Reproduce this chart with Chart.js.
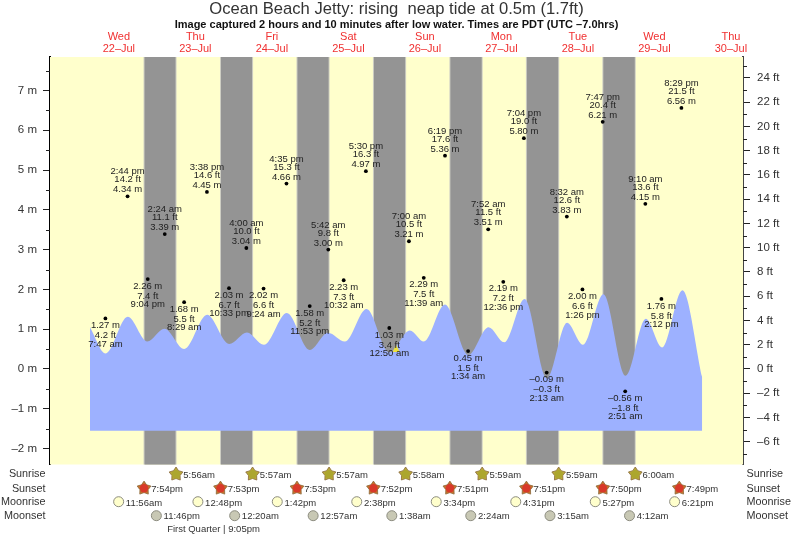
<!DOCTYPE html>
<html>
<head>
<meta charset="utf-8">
<style>
  html, body { margin: 0; padding: 0; background: #fff; }
  canvas { display: block; }
</style>
<script src="https://cdn.jsdelivr.net/npm/chart.js@4"></script>
</head>
<body>
<canvas id="tide" width="793" height="538"></canvas>
<script>
// ─── Data ────────────────────────────────────────────────────────────
// day = days after 22-Jul
const dayNames = ['Wed', 'Thu', 'Fri', 'Sat', 'Sun', 'Mon', 'Tue', 'Wed', 'Thu'];
const dayDates = ['22–Jul', '23–Jul', '24–Jul', '25–Jul', '26–Jul', '27–Jul', '28–Jul', '29–Jul', '30–Jul'];

// high and low water, alternating, starts with a low
const tideDays = [0, 0, 0, 1, 1, 1, 1, 2, 2, 2, 2, 3, 3, 3, 4, 4, 4, 4, 5, 5, 5, 5, 6, 6, 6, 6, 7, 7, 7, 7];
const tideTimes = ['7:47 am', '2:44 pm', '9:04 pm', '2:24 am', '8:29 am', '3:38 pm', '10:33 pm', '4:00 am', '9:24 am', '4:35 pm',
  '11:53 pm', '5:42 am', '10:32 am', '5:30 pm', '12:50 am', '7:00 am', '11:39 am', '6:19 pm', '1:34 am', '7:52 am',
  '12:36 pm', '7:04 pm', '2:13 am', '8:32 am', '1:26 pm', '7:47 pm', '2:51 am', '9:10 am', '2:12 pm', '8:29 pm'];
const tideMetres = ['1.27', '4.34', '2.26', '3.39', '1.68', '4.45', '2.03', '3.04', '2.02', '4.66',
  '1.58', '3.00', '2.23', '4.97', '1.03', '3.21', '2.29', '5.36', '0.45', '3.51',
  '2.19', '5.80', '–0.09', '3.83', '2.00', '6.21', '–0.56', '4.15', '1.76', '6.56'];
const tideFeet = ['4.2', '14.2', '7.4', '11.1', '5.5', '14.6', '6.7', '10.0', '6.6', '15.3',
  '5.2', '9.8', '7.3', '16.3', '3.4', '10.5', '7.5', '17.6', '1.5', '11.5',
  '7.2', '19.0', '–0.3', '12.6', '6.6', '20.4', '–1.8', '13.6', '5.8', '21.5'];

// the blue curve, hours after midnight 22-Jul / metres
const curveHours = [2.95, 7.87, 14.78, 20.9, 26.3, 32.5, 39.7, 46.6, 52.2, 57.5, 64.7, 71.9, 77.6, 82.9, 89.7, 96.8,
  103.3, 107.7, 114.3, 121.6, 128.0, 132.9, 139.3, 146.3, 152.6, 157.6, 164.0, 171.0, 177.3, 182.4, 188.8, 195.0];
const curveMetres = [1.05, 0.39, 1.31, 0.69, 1.01, 0.50, 1.36, 0.63, 0.92, 0.61, 1.41, 0.48, 0.91, 0.69, 1.51, 0.42,
  0.97, 0.69, 1.62, 0.35, 1.05, 0.67, 1.76, -0.23, 1.16, 0.61, 1.88, -0.17, 1.26, 0.54, 1.98, -0.21];
const curveFloor = -1.55;
const nowHour = 99, nowMetres = 0.5;

const sunriseDays = [1, 2, 3, 4, 5, 6, 7];
const sunriseTimes = ['5:56am', '5:57am', '5:57am', '5:58am', '5:59am', '5:59am', '6:00am'];
const sunsetDays = [0, 1, 2, 3, 4, 5, 6, 7];
const sunsetTimes = ['7:54pm', '7:53pm', '7:53pm', '7:52pm', '7:51pm', '7:51pm', '7:50pm', '7:49pm'];
const moonriseDays = [0, 1, 2, 3, 4, 5, 6, 7];
const moonriseTimes = ['11:56am', '12:48pm', '1:42pm', '2:38pm', '3:34pm', '4:31pm', '5:27pm', '6:21pm'];
const moonsetDays = [0, 2, 3, 4, 5, 6, 7];
const moonsetTimes = ['11:46pm', '12:20am', '12:57am', '1:38am', '2:24am', '3:15am', '4:12am'];

const metreTicks = [-2, -1, 0, 1, 2, 3, 4, 5, 6, 7];
const feetTicks = [-6, -4, -2, 0, 2, 4, 6, 8, 10, 12, 14, 16, 18, 20, 22, 24];

const FONT = '"Liberation Sans", Arial, sans-serif';
const M_TO_FT = 3.28084;
const Y_MIN = -2.4, Y_MAX = 7.84;

function hourOf(day, time) {
  const m = time.match(/(\d+):(\d+)\s*(am|pm)/);
  return day * 24 + (+m[1] % 12) + (m[3] === 'pm' ? 12 : 0) + m[2] / 60;
}
const minus = (v) => String(v).replace('-', '–');

// ─── Background: daylight and night bands ────────────────────────────
const bandsPlugin = {
  id: 'bands',
  beforeDatasetsDraw(chart) {
    const { ctx, chartArea: a, scales: { x } } = chart;
    ctx.save();
    ctx.fillStyle = '#ffffcc';
    ctx.fillRect(a.left, a.top, a.right - a.left, a.bottom - a.top);
    sunriseTimes.forEach((t, i) => {
      const x0 = x.getPixelForValue(hourOf(sunsetDays[i], sunsetTimes[i]));
      const x1 = x.getPixelForValue(hourOf(sunriseDays[i], t));
      ctx.fillStyle = '#cfcfc4';
      ctx.fillRect(x0 - 0.5, a.top, x1 - x0 + 1, a.bottom - a.top);
      ctx.fillStyle = '#949494';
      ctx.fillRect(x0 + 0.5, a.top, x1 - x0 - 1, a.bottom - a.top);
    });
    ctx.restore();
  },
};

// ─── Tide labels, now marker, minor ticks ────────────────────────────
const labelsPlugin = {
  id: 'labels',
  afterDatasetsDraw(chart) {
    const { ctx, chartArea: a, scales: { x, y, yFt } } = chart;
    ctx.save();

    // now marker
    const nx = x.getPixelForValue(nowHour), ny = y.getPixelForValue(nowMetres);
    ctx.beginPath();
    ctx.moveTo(nx, ny - 4);
    ctx.lineTo(nx + 3.7, ny + 3);
    ctx.lineTo(nx - 3.7, ny + 3);
    ctx.closePath();
    ctx.fillStyle = '#efe23c';
    ctx.fill();

    // text around each high/low
    ctx.font = '9.5px ' + FONT;
    ctx.fillStyle = '#222';
    ctx.textAlign = 'center';
    ctx.textBaseline = 'middle';
    tideTimes.forEach((t, i) => {
      const px = x.getPixelForValue(hourOf(tideDays[i], t));
      const py = y.getPixelForValue(parseFloat(tideMetres[i].replace('–', '-')));
      const high = i % 2 === 1;
      const lines = high ? [t, tideFeet[i] + ' ft', tideMetres[i] + ' m'] : [tideMetres[i] + ' m', tideFeet[i] + ' ft', t];
      const offs = high ? [-24.5, -16.5, -6.5] : [7, 17, 25.5];
      lines.forEach((s, k) => ctx.fillText(s, px, py + offs[k]));
    });

    // minor ticks
    ctx.strokeStyle = '#222';
    ctx.lineWidth = 1;
    ctx.beginPath();
    for (let v = -2; v <= 7.5; v += 1) {
      const p = Math.round(y.getPixelForValue(v - 0.5)) + 0.5;
      if (v - 0.5 > Y_MIN) { ctx.moveTo(a.left, p); ctx.lineTo(a.left - 4, p); }
      const q = Math.round(y.getPixelForValue(v + 0.5)) + 0.5;
      ctx.moveTo(a.left, q); ctx.lineTo(a.left - 4, q);
    }
    for (let v = -7; v <= 25; v += 2) {
      const p = Math.round(yFt.getPixelForValue(v)) + 0.5;
      ctx.moveTo(a.right, p); ctx.lineTo(a.right + 4, p);
    }
    ctx.stroke();
    ctx.restore();
  },
};

// ─── Rows under the plot: sun and moon ───────────────────────────────
function drawStar(ctx, cx, cy, tip, core) {
  ctx.beginPath();
  for (let i = 0; i < 10; i++) {
    const r = i % 2 ? 4.3 : 7.2;
    const t = -Math.PI / 2 + i * Math.PI / 5;
    ctx[i ? 'lineTo' : 'moveTo'](cx + r * Math.cos(t), cy + r * Math.sin(t));
  }
  ctx.closePath();
  ctx.fillStyle = tip;
  ctx.strokeStyle = '#8a6a3a';
  ctx.lineWidth = 0.8;
  ctx.fill();
  ctx.stroke();
  ctx.beginPath();
  ctx.arc(cx, cy, 4.2, 0, Math.PI * 2);
  ctx.fillStyle = core;
  ctx.fill();
}

function drawMoon(ctx, cx, cy, fill) {
  ctx.beginPath();
  ctx.arc(cx, cy, 5, 0, Math.PI * 2);
  ctx.fillStyle = fill;
  ctx.strokeStyle = '#8c8c80';
  ctx.lineWidth = 1;
  ctx.fill();
  ctx.stroke();
}

const rowsPlugin = {
  id: 'rows',
  afterDraw(chart) {
    const { ctx, scales: { x } } = chart;
    const rows = [
      { name: 'Sunrise', y: 474.5, iconY: 474.2, textY: 475, days: sunriseDays, times: sunriseTimes, icon: (cx, cy) => drawStar(ctx, cx, cy, '#b9a93a', '#aca62e') },
      { name: 'Sunset', y: 489, iconY: 488.3, textY: 489.7, days: sunsetDays, times: sunsetTimes, icon: (cx, cy) => drawStar(ctx, cx, cy, '#c8702c', '#d8392a') },
      { name: 'Moonrise', y: 502.5, iconY: 501.7, textY: 503.3, days: moonriseDays, times: moonriseTimes, icon: (cx, cy) => drawMoon(ctx, cx, cy, '#ffffcc') },
      { name: 'Moonset', y: 516, iconY: 515.7, textY: 516.7, days: moonsetDays, times: moonsetTimes, icon: (cx, cy) => drawMoon(ctx, cx, cy, '#c8c8b4') },
    ];
    ctx.save();
    ctx.textBaseline = 'middle';
    rows.forEach((row) => {
      ctx.font = '10.8px ' + FONT;
      ctx.fillStyle = '#333';
      ctx.textAlign = 'right';
      ctx.fillText(row.name, 45.5, row.y);
      ctx.textAlign = 'left';
      ctx.fillText(row.name, 746.5, row.y);
      ctx.font = '9.5px ' + FONT;
      row.times.forEach((t, i) => {
        const cx = x.getPixelForValue(hourOf(row.days[i], t));
        row.icon(cx, row.iconY);
        ctx.fillStyle = '#333';
        ctx.textAlign = 'left';
        ctx.fillText(t, cx + 7.2, row.textY);
      });
    });
    ctx.font = '9.5px ' + FONT;
    ctx.textAlign = 'center';
    ctx.fillStyle = '#333';
    ctx.fillText('First Quarter | 9:05pm', 213.5, 529.5);
    ctx.restore();
  },
};

// ─── Chart ───────────────────────────────────────────────────────────
new Chart(document.getElementById('tide'), {
  type: 'line',
  data: {
    datasets: [
      {
        label: 'Tide',
        data: curveHours.map((h, i) => ({ x: h, y: curveMetres[i] })),
        backgroundColor: '#9db1ff',
        borderWidth: 0,
        pointRadius: 0,
        cubicInterpolationMode: 'monotone',
        fill: { value: curveFloor },
        order: 2,
      },
      {
        label: 'High and low',
        data: tideTimes.map((t, i) => ({ x: hourOf(tideDays[i], t), y: parseFloat(tideMetres[i].replace('–', '-')) })),
        showLine: false,
        pointRadius: 1.9,
        pointBorderWidth: 0,
        pointBackgroundColor: '#000',
        order: 1,
      },
    ],
  },
  options: {
    responsive: false,
    animation: false,
    devicePixelRatio: 1,
    layout: { padding: { bottom: 73.5 } },
    plugins: {
      legend: { display: false },
      tooltip: { enabled: false },
      title: {
        display: true,
        text: 'Ocean Beach Jetty: rising  neap tide at 0.5m (1.7ft)',
        color: '#333',
        font: { family: FONT, size: 16.6, weight: 'normal', lineHeight: 1 },
        padding: { top: 1, bottom: 2 },
      },
      subtitle: {
        display: true,
        text: 'Image captured 2 hours and 10 minutes after low water. Times are PDT (UTC –7.0hrs)',
        color: '#111',
        font: { family: FONT, size: 11, weight: 'bold', lineHeight: 1 },
        padding: 0,
      },
    },
    scales: {
      x: {
        type: 'linear',
        position: 'top',
        min: -9.6,
        max: 207.8,
        grid: { display: false, drawTicks: false },
        border: { display: false },
        afterBuildTicks: (s) => { s.ticks = dayNames.map((_, i) => ({ value: i * 24 + 12 })); },
        afterFit: (s) => { s.height = 26.4; },
        ticks: {
          autoSkip: false,
          maxRotation: 0,
          padding: 2,
          color: '#f03030',
          font: { family: FONT, size: 11, lineHeight: 1.12 },
          callback: (v) => { const i = (v - 12) / 24; return [dayNames[i], dayDates[i]]; },
        },
      },
      y: {
        type: 'linear',
        position: 'left',
        min: Y_MIN,
        max: Y_MAX,
        border: { color: '#000', width: 2 },
        grid: { drawOnChartArea: false, tickLength: 7, tickColor: '#222' },
        afterBuildTicks: (s) => { s.ticks = metreTicks.map((v) => ({ value: v })); },
        afterFit: (s) => { s.width = 50; },
        ticks: {
          padding: 6,
          color: '#333',
          font: { family: FONT, size: 11.5 },
          callback: (v) => minus(v) + ' m',
        },
      },
      yFt: {
        type: 'linear',
        position: 'right',
        min: Y_MIN * M_TO_FT,
        max: Y_MAX * M_TO_FT,
        border: { color: '#444', width: 2 },
        grid: { drawOnChartArea: false, tickLength: 7, tickColor: '#222' },
        afterBuildTicks: (s) => { s.ticks = feetTicks.map((v) => ({ value: v })); },
        afterFit: (s) => { s.width = 50; },
        ticks: {
          padding: 7,
          color: '#333',
          font: { family: FONT, size: 11.5 },
          callback: (v) => minus(v) + ' ft',
        },
      },
    },
  },
  plugins: [bandsPlugin, labelsPlugin, rowsPlugin],
});
</script>
</body>
</html>
